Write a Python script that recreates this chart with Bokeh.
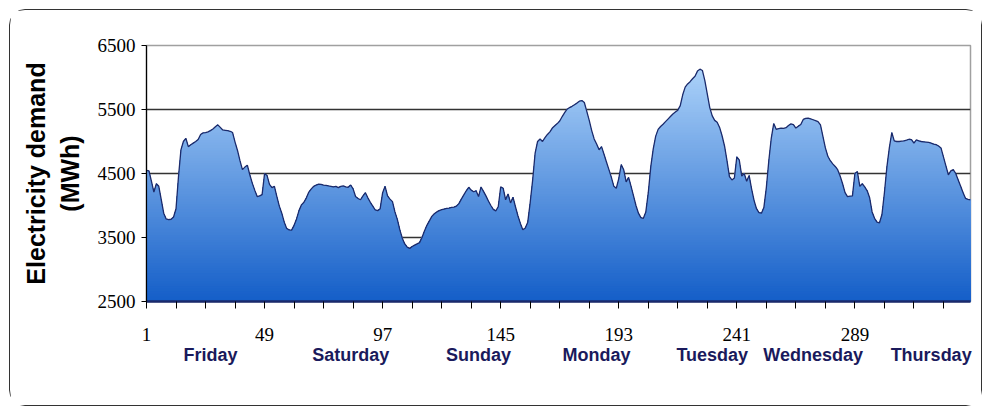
from bokeh.plotting import figure
from bokeh.models import Range1d, FixedTicker, LinearAxis
from bokeh.embed import file_html
from bokeh.resources import INLINE

# Half-hourly electricity demand (MWh), one list per day, 48 periods each
friday = [4550, 4540, 4380, 4210, 4340, 4300, 4090, 3880, 3790, 3780, 3785, 3820,
          3950, 4450, 4870, 5000, 5050, 4920, 4950, 4975, 5000, 5030, 5110, 5135,
          5140, 5150, 5170, 5195, 5230, 5260, 5220, 5180, 5175, 5170, 5160, 5140,
          4990, 4860, 4700, 4560, 4600, 4630, 4480, 4350, 4240, 4140, 4150, 4170]
saturday = [4500, 4470, 4330, 4280, 4300, 4140, 3990, 3880, 3740, 3640, 3620, 3615,
            3690, 3790, 3920, 4010, 4050, 4120, 4210, 4260, 4300, 4320, 4335, 4330,
            4320, 4315, 4305, 4300, 4290, 4300, 4280, 4300, 4305, 4290, 4285, 4320,
            4260, 4140, 4110, 4090, 4150, 4200, 4120, 4050, 3990, 3930, 3920, 3950]
sunday = [4200, 4300, 4150, 4100, 4060, 3900, 3780, 3620, 3490, 3400, 3350, 3330,
          3360, 3380, 3400, 3420, 3500, 3600, 3690, 3760, 3830, 3870, 3900, 3920,
          3935, 3945, 3955, 3960, 3970, 3975, 3990, 4030, 4100, 4165, 4230, 4285,
          4240, 4215, 4230, 4140, 4290, 4220, 4150, 4070, 4000, 3940, 3915, 3980]
monday = [4290, 4270, 4090, 4180, 4040, 4130, 3980, 3840, 3720, 3620, 3650, 3740,
          4050, 4400, 4820, 5000, 5040, 5000, 5060, 5110, 5150, 5210, 5245, 5280,
          5320, 5390, 5450, 5505, 5530, 5550, 5575, 5600, 5630, 5640, 5610, 5470,
          5330, 5170, 5040, 4960, 4870, 4920, 4800, 4680, 4560, 4440, 4300, 4270]
tuesday = [4420, 4640, 4560, 4370, 4440, 4300, 4150, 4000, 3880, 3810, 3800, 3900,
           4200, 4600, 4880, 5080, 5190, 5235, 5270, 5310, 5350, 5390, 5430, 5460,
           5490, 5560, 5730, 5850, 5900, 5935, 5980, 6020, 6100, 6130, 6110, 5950,
           5740, 5530, 5400, 5330, 5300, 5220, 5090, 4930, 4700, 4450, 4400, 4430]
wednesday = [4760, 4710, 4460, 4500, 4380, 4470, 4260, 4080, 3950, 3890, 3880, 3970,
             4280, 4700, 5050, 5280, 5190, 5200, 5210, 5205, 5215, 5250, 5275, 5265,
             5210, 5240, 5265, 5345, 5360, 5365, 5355, 5340, 5325, 5310, 5260, 5080,
             4900, 4770, 4700, 4650, 4610, 4560, 4460, 4340, 4200, 4140, 4145, 4150]
thursday = [4500, 4530, 4300, 4340, 4290, 4230, 4120, 3900, 3800, 3740, 3730, 3860,
            4200, 4600, 4900, 5140, 5010, 5000, 5000, 5005, 5010, 5020, 5035, 5030,
            4975, 5025, 5010, 5000, 4995, 4990, 4985, 4975, 4960, 4950, 4930, 4900,
            4760, 4620, 4480, 4540, 4560, 4500, 4400, 4300, 4200, 4110, 4095, 4090]

day_names = ["Friday", "Saturday", "Sunday", "Monday", "Tuesday", "Wednesday", "Thursday"]
x_tick_labels = [1, 49, 97, 145, 193, 241, 289]
y_ticks = [2500, 3500, 4500, 5500, 6500]

demand = friday + saturday + sunday + monday + tuesday + wednesday + thursday
periods = list(range(1, len(demand) + 1))

# layout-only positions for the day captions (in period units)
day_label_pos = [27, 84, 136, 184, 231, 272, 320]

y_min, y_max = 2500, 6500

p = figure(width=973, height=397, output_backend="svg", toolbar_location=None,
           x_range=Range1d(1, len(demand)), y_range=Range1d(y_min, y_max),
           min_border_left=136, min_border_right=13, min_border_top=35,
           min_border_bottom=106, background_fill_color="white",
           border_fill_color="white")
p.styles = {"border": "1.5px solid #333333", "border-radius": "16px",
            "margin-left": "9px", "margin-top": "9px"}

# gradient fill: nested areas from the base, lightest (tallest) first
bottom_rgb = (20, 94, 200)
top_rgb = (172, 210, 249)
top_level = 6150
step = 40
levels = list(range(y_min + step, top_level + step, step))
for hi in reversed(levels):
    t = min(1.0, (hi - step / 2 - y_min) / (top_level - y_min))
    col = "#%02x%02x%02x" % tuple(int(round(b + t * (a - b))) for a, b in zip(top_rgb, bottom_rgb))
    y2 = [min(v, hi) for v in demand]
    p.varea(x=periods, y1=y_min, y2=y2, fill_color=col, fill_alpha=1.0)

p.line(periods, demand, line_color="#1c2b6b", line_width=1.3)

# grid
p.xgrid.visible = False
p.ygrid.ticker = FixedTicker(ticks=[3500, 4500, 5500])
p.ygrid.grid_line_color = "#333333"
p.ygrid.grid_line_width = 1.5
p.outline_line_color = "#a0a0a0"
p.outline_line_width = 1.5

# y axis
ya = p.yaxis[0]
ya.ticker = FixedTicker(ticks=y_ticks)
ya.axis_line_color = "black"
ya.axis_line_width = 1.2
ya.major_tick_in = 0
ya.major_tick_out = 5
ya.minor_tick_line_color = None
ya.major_label_text_font = "Liberation Serif"
ya.major_label_text_font_size = "19px"
ya.major_label_text_color = "black"
ya.major_label_standoff = 6
ya.axis_label = "Electricity demand\n(MWh)"
ya.axis_label_text_font = "Liberation Sans"
ya.axis_label_text_font_style = "bold"
ya.axis_label_text_font_size = "25px"
ya.axis_label_text_color = "black"
ya.axis_label_standoff = 11

# x axis: ticks every 12 periods, numbers every 48
xa = p.xaxis[0]
all_ticks = list(range(1, len(demand) + 1, 12))
xa.ticker = FixedTicker(ticks=all_ticks)
xa.major_label_overrides = {t: ("" if t not in x_tick_labels else str(t)) for t in all_ticks}
xa.axis_line_color = "#1a2a6c"
xa.axis_line_width = 2.5
xa.major_tick_in = 0
xa.major_tick_out = 7
xa.major_tick_line_color = "black"
xa.minor_tick_line_color = None
xa.major_label_text_font = "Liberation Serif"
xa.major_label_text_font_size = "19px"
xa.major_label_text_color = "black"
xa.major_label_standoff = 19

# day captions
da = LinearAxis(ticker=FixedTicker(ticks=day_label_pos),
                major_label_overrides={pos: name for pos, name in zip(day_label_pos, day_names)})
da.axis_line_color = None
da.major_tick_line_color = None
da.minor_tick_line_color = None
da.major_tick_in = 0
da.major_tick_out = 0
da.major_label_standoff = 1
da.major_label_text_font = "Liberation Sans"
da.major_label_text_font_style = "bold"
da.major_label_text_font_size = "18px"
da.major_label_text_color = "#1a1a5c"
p.add_layout(da, "below")

open("out.html", "w").write(file_html(p, INLINE))
